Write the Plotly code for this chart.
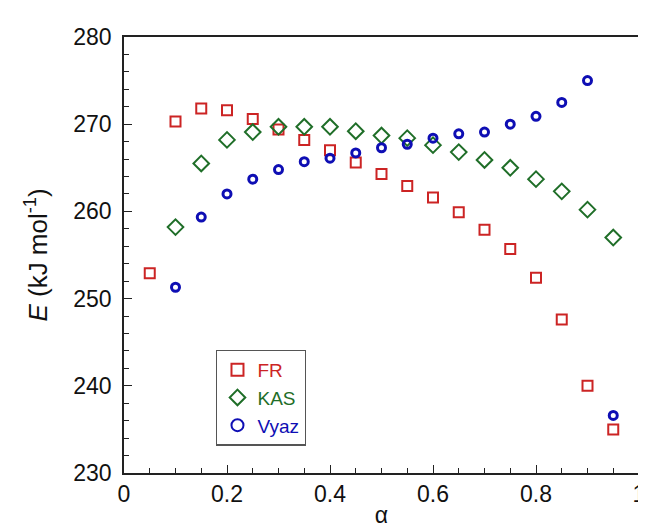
import plotly.graph_objects as go

alpha = [0.05, 0.10, 0.15, 0.20, 0.25, 0.30, 0.35, 0.40, 0.45, 0.50,
         0.55, 0.60, 0.65, 0.70, 0.75, 0.80, 0.85, 0.90, 0.95]
fr = [252.9, 270.3, 271.8, 271.6, 270.6, 269.4, 268.2, 267.0, 265.6, 264.3,
      262.9, 261.6, 259.9, 257.9, 255.7, 252.4, 247.6, 240.0, 235.0]
alpha_kv = alpha[1:]
kas = [258.2, 265.5, 268.2, 269.1, 269.7, 269.7, 269.7, 269.2, 268.7,
       268.4, 267.6, 266.8, 265.9, 265.0, 263.7, 262.3, 260.2, 257.0]
vyaz = [251.3, 259.35, 262.0, 263.7, 264.8, 265.7, 266.1, 266.7, 267.3,
        267.7, 268.4, 268.9, 269.1, 270.0, 270.9, 272.5, 275.0, 236.6]

FONT = "Liberation Sans, Arial, sans-serif"
RED, GREEN, BLUE = "#cc2424", "#1f6e28", "#0e0eb4"

fig = go.Figure()
fig.add_trace(go.Scatter(x=alpha, y=fr, mode="markers",
                         name=f"<span style='color:{RED}'>FR</span>",
                         marker=dict(symbol="square-open", size=10, color=RED,
                                     line=dict(width=2, color=RED))))
fig.add_trace(go.Scatter(x=alpha_kv, y=kas, mode="markers",
                         name=f"<span style='color:{GREEN}'>KAS</span>",
                         marker=dict(symbol="diamond-open", size=12, color=GREEN,
                                     line=dict(width=2, color=GREEN))))
fig.add_trace(go.Scatter(x=alpha_kv, y=vyaz, mode="markers",
                         name=f"<span style='color:{BLUE}'>Vyaz</span>",
                         marker=dict(symbol="circle-open", size=8, color=BLUE,
                                     line=dict(width=3, color=BLUE))))

axis_common = dict(showline=True, linecolor="#222", linewidth=1.6, mirror=True,
                   ticks="inside", tickcolor="#222", tickwidth=1.3, ticklen=8,
                   showgrid=False, zeroline=False,
                   tickfont=dict(family=FONT, size=23, color="#111"))

fig.update_layout(
    width=646, height=527,
    margin=dict(l=116, r=9, t=29, b=62),
    plot_bgcolor="white", paper_bgcolor="white",
    showlegend=True,
    legend=dict(x=0.179, y=0.283, xanchor="left", yanchor="top",
                bordercolor="#555", borderwidth=1.3, bgcolor="white",
                font=dict(family=FONT, size=19), itemsizing="constant",
                tracegroupgap=0, itemwidth=30),
    xaxis=dict(range=[0, 1], tickvals=[0, 0.2, 0.4, 0.6, 0.8, 1],
               ticktext=["0", "0.2", "0.4", "0.6", "0.8", "1"],
               minor=dict(dtick=0.05, ticks="inside", ticklen=5, tickcolor="#222", tickwidth=1.3),
               title=dict(text="α", font=dict(family=FONT, size=23, color="#111"), standoff=0),
               **axis_common),
    yaxis=dict(range=[230, 280], dtick=10, ticklabelstandoff=6,
               minor=dict(dtick=2, ticks="inside", ticklen=5, tickcolor="#222", tickwidth=1.3),
               title=dict(text="<i>E</i> (kJ mol<sup>-1</sup>)",
                          font=dict(family=FONT, size=26, color="#111"), standoff=18),
               **axis_common),
)

fig.write_html("out.html")
